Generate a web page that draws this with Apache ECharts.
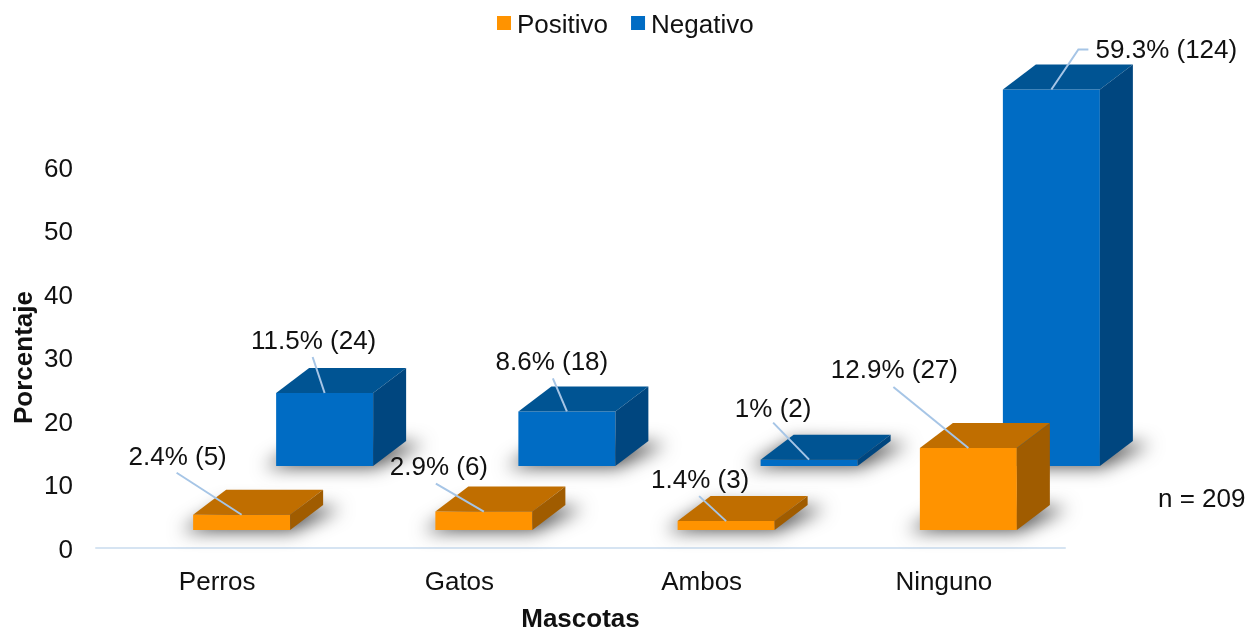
<!DOCTYPE html>
<html>
<head>
<meta charset="utf-8">
<title>Mascotas</title>
<script src="https://cdn.jsdelivr.net/npm/echarts@6/dist/echarts.min.js"></script>
<style>
  html, body { margin: 0; padding: 0; background: #fff; }
  #chart { width: 1256px; height: 630px; }
</style>
</head>
<body>
<div id="chart"></div>
<script>
const categories = ['Perros', 'Gatos', 'Ambos', 'Ninguno'];
const positivo = [2.4, 2.9, 1.4, 12.9];
const negativo = [11.5, 8.6, 1, 59.3];
const positivoN = [5, 6, 3, 27];
const negativoN = [24, 18, 2, 124];
const yTicks = [0, 10, 20, 30, 40, 50, 60];

const FONT = '"Liberation Sans", Arial, sans-serif';
const DX = 33, DY = 25;   // profundidad de la caja
const BAR_W = 97;
const LEADER = '#a6c5e6';
const OFF = 3000;         // la sombra se pinta desde fuera del lienzo

// donde va cada etiqueta respecto al centro superior de la barra
const posLabelAt = [[-64, -57], [-45, -44], [-26, -40], [-74, -77]];
const posLineTo = [[[-65, -42]], [[-48, -28]], [[-27, -25]], [[-75, -61]]];
const negLabelAt = [[-11, -51], [-15, -49], [-36, -50], [115, -39]];
const negLineTo = [[[-12, -36]], [[-14, -33]], [[-36, -37]], [[27, -40], [37, -40]]];

const posStyle = { front: '#ff9300', top: '#c06e00', side: '#a05c00', shift: -24, lift: 18 };
const negStyle = { front: '#006cc4', top: '#005493', side: '#00467f', shift: 59, lift: 82 };

function box(api, st) {
  const i = api.value(0);
  const zero = api.coord([i, 0]);
  const top = api.coord([i, api.value(1)]);
  const x0 = zero[0] + st.shift;
  return { x0: x0, x1: x0 + BAR_W, base: zero[1] - st.lift, top: top[1] - st.lift };
}

function poly(points, fill) {
  return { type: 'polygon', shape: { points: points }, style: { fill: fill } };
}

function barItem(st, labelAt, lineTo, counts) {
  return function (params, api) {
    const b = box(api, st);
    const i = api.value(0);
    const cx = (b.x0 + b.x1) / 2;
    const linePts = [[cx, b.top]].concat(lineTo[i].map(p => [cx + p[0], b.top + p[1]]));
    return {
      type: 'group',
      children: [
        poly([[b.x0, b.base], [b.x1, b.base], [b.x1, b.top], [b.x0, b.top]], st.front),
        poly([[b.x0, b.top], [b.x1, b.top], [b.x1 + DX, b.top - DY], [b.x0 + DX, b.top - DY]], st.top),
        poly([[b.x1, b.base], [b.x1 + DX, b.base - DY], [b.x1 + DX, b.top - DY], [b.x1, b.top]], st.side),
        {
          type: 'polyline',
          shape: { points: linePts },
          style: { stroke: LEADER, lineWidth: 2, fill: null }
        },
        {
          type: 'text',
          style: {
            text: api.value(1) + '% (' + counts[i] + ')',
            x: cx + labelAt[i][0],
            y: b.top + labelAt[i][1],
            align: 'center',
            verticalAlign: 'middle',
            fill: '#111',
            font: '26px ' + FONT
          }
        }
      ]
    };
  };
}

function shadowItem(st) {
  return function (params, api) {
    const b = box(api, st);
    const pts = [
      [b.x0 - 12 - OFF, b.base + 1],
      [b.x1 + 2 - OFF, b.base + 1],
      [b.x1 + DX + 18 - OFF, b.base - DY + 3],
      [b.x0 + DX - OFF, b.base - DY]
    ];
    return {
      type: 'polygon',
      shape: { points: pts },
      style: { fill: '#000', shadowBlur: 18, shadowOffsetX: OFF, shadowColor: 'rgba(0,0,0,0.7)' }
    };
  };
}

function rows(values) {
  return values.map((v, i) => [i, v]);
}

const myChart = echarts.init(document.getElementById('chart'));
myChart.setOption({
  backgroundColor: '#fff',
  animation: false,
  textStyle: { fontFamily: FONT },
  legend: {
    data: ['Positivo', 'Negativo'],
    left: 492,
    top: 8,
    icon: 'rect',
    itemWidth: 14,
    itemHeight: 14,
    itemGap: 23,
    formatter: '{t|{name}}',
    textStyle: {
      rich: { t: { fontSize: 26, color: '#111', fontFamily: FONT, padding: [6, 0, 0, 1] } }
    }
  },
  grid: { left: 96, right: 191, top: 167, bottom: 82, outerBoundsMode: 'none' },
  xAxis: {
    type: 'category',
    data: categories,
    name: 'Mascotas',
    nameLocation: 'middle',
    nameGap: 59,
    nameTextStyle: { fontSize: 26, fontWeight: 'bold', color: '#111', fontFamily: FONT },
    axisLine: { lineStyle: { color: '#d6e4f2', width: 2 } },
    axisTick: { show: false },
    axisLabel: { fontSize: 26, color: '#111', margin: 22, fontFamily: FONT }
  },
  yAxis: {
    type: 'value',
    min: yTicks[0],
    max: yTicks[yTicks.length - 1],
    interval: 10,
    name: 'Porcentaje',
    nameLocation: 'middle',
    nameGap: 58,
    nameMoveOverlap: false,
    nameTextStyle: { fontSize: 26, fontWeight: 'bold', color: '#111', fontFamily: FONT },
    axisLine: { show: false },
    axisTick: { show: false },
    splitLine: { show: false },
    axisLabel: {
      margin: 23,
      formatter: '{t|{value}}',
      rich: { t: { fontSize: 26, color: '#111', fontFamily: FONT, padding: [5, 0, 0, 0] } }
    }
  },
  graphic: [{
    type: 'text',
    left: 1158,
    top: 487,
    style: { text: 'n = 209', fill: '#111', font: '26px ' + FONT }
  }],
  series: [
    { name: 'sombra neg', type: 'custom', z: 1, silent: true, renderItem: shadowItem(negStyle), data: rows(negativo), encode: { x: 0, y: 1 } },
    { name: 'sombra pos', type: 'custom', z: 1, silent: true, renderItem: shadowItem(posStyle), data: rows(positivo), encode: { x: 0, y: 1 } },
    {
      name: 'Negativo',
      type: 'custom',
      z: 2,
      itemStyle: { color: negStyle.front },
      renderItem: barItem(negStyle, negLabelAt, negLineTo, negativoN),
      data: rows(negativo),
      encode: { x: 0, y: 1 }
    },
    {
      name: 'Positivo',
      type: 'custom',
      z: 3,
      itemStyle: { color: posStyle.front },
      renderItem: barItem(posStyle, posLabelAt, posLineTo, positivoN),
      data: rows(positivo),
      encode: { x: 0, y: 1 }
    }
  ]
});
</script>
</body>
</html>
